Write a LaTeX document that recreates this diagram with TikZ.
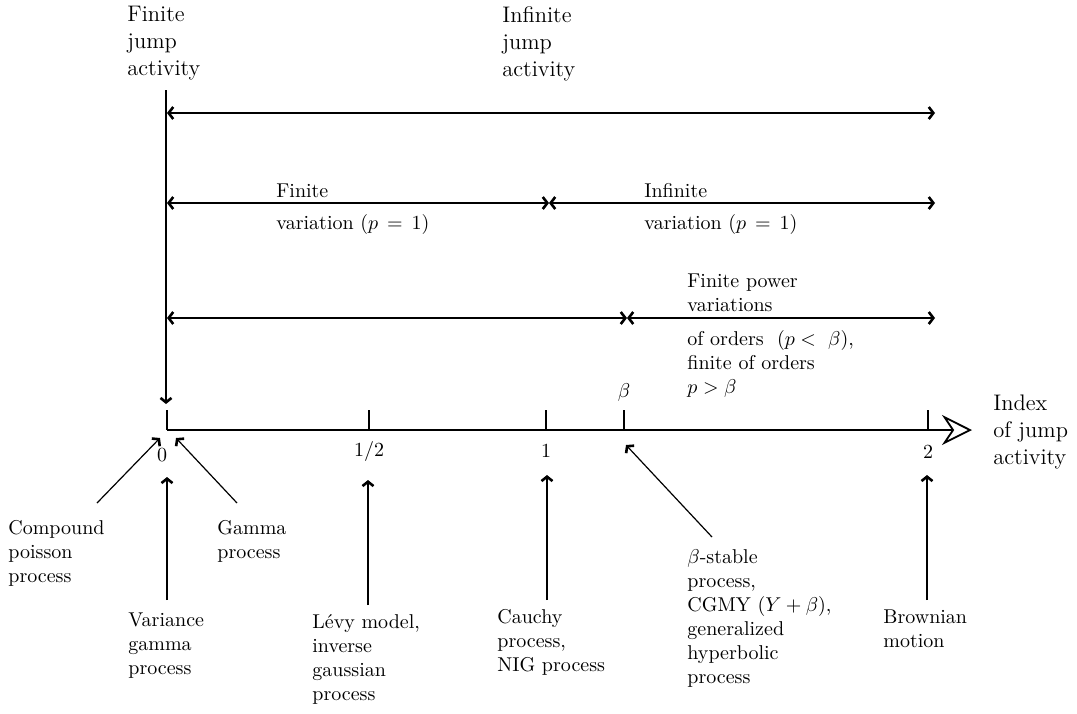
\documentclass[tikz,border=0pt]{standalone}
\usetikzlibrary{arrows.meta}
\begin{document}
\begin{tikzpicture}[x=0.5pt,y=-0.5pt,
  txt/.style={inner sep=0pt, anchor=north west, align=left, font=\fontsize{10}{12}\selectfont},
  btxt/.style={inner sep=0pt, anchor=base west, font=\fontsize{10}{12}\selectfont},
  bigtxt/.style={inner sep=0pt, anchor=north west, align=left, font=\fontsize{11.25}{13.5}\selectfont},
  ticklbl/.style={inner sep=0pt, font=\fontsize{10}{12}\selectfont},
  rangearrow/.style={line width=0.7pt, {Straight Barb[length=2.3pt,width=6pt,line width=1.3pt]}-{Straight Barb[length=2.3pt,width=6pt,line width=1.3pt]}},
  conn/.style={line width=0.6pt, -{Straight Barb[length=2.2pt,width=5.5pt,line width=1.3pt]}},
  axisline/.style={line width=1.3pt},
  tickmark/.style={line width=1.3pt}]
\useasboundingbox (0,0) rectangle (1077,713);

% top labels
\node[bigtxt] (fja) at (127,6) {Finite\\jump\\activity};
\node[bigtxt] (ija) at (502,6) {Infinite\\jump\\activity};

% axis coordinates
\coordinate (o) at (167,430);
\coordinate (half) at (369,430);
\coordinate (one) at (546,430);
\coordinate (beta) at (624,430);
\coordinate (two) at (928,430);
\coordinate (axend) at (972,430);

% vertical line from finite jump activity
\coordinate (vtop) at (166,90);
\coordinate (vbot) at (166,404);
\draw[conn] (vtop) -- (vbot);

% axis
\draw[axisline] (167,410) -- (o);
\draw[axisline, -{Stealth[open,length=15pt,width=15pt,inset=5pt,line width=0.9pt]}] (o) -- (axend);
\foreach \p in {half,one,beta,two} \draw[tickmark] (\p) -- ++(0,-20);

% tick labels
\node[ticklbl] (l0) at (162,455) {0};
\node[ticklbl] (lhalf) at (369,451) {1/2};
\node[ticklbl] (lone) at (546,451) {1};
\node[ticklbl] (ltwo) at (928,452) {2};
\node[ticklbl] (lbeta) at (624,392) {$\beta$};
\node[bigtxt] (idx) at (993,394) {Index\\of jump\\activity};

% row 1
\coordinate (r1a) at (167,113);
\coordinate (r1b) at (935,113);
\draw[rangearrow] (r1a) -- (r1b);

% row 2
\coordinate (r2a) at (167,203);
\coordinate (r2m) at (549,203);
\coordinate (r2b) at (935,203);
\draw[rangearrow] (r2a) -- (r2m);
\draw[rangearrow] (r2m) -- (r2b);
\node[btxt] (fv1) at (276,197) {Finite};
\node[btxt] (fv2) at (276,229) {variation ($p\,=\,1$)};
\node[btxt] (iv1) at (644,197) {Infinite};
\node[btxt] (iv2) at (644,229) {variation ($p\,=\,1$)};

% row 3
\coordinate (r3a) at (167,318);
\coordinate (r3m) at (627,318);
\coordinate (r3b) at (935,318);
\draw[rangearrow] (r3a) -- (r3m);
\draw[rangearrow] (r3m) -- (r3b);
\node[txt] (fp1) at (687,273) {Finite power\\variations};
\node[txt] (fp2) at (687,330) {of orders\ \ ($p<\ \beta$),\\finite of orders\\$p>\beta$};

% bottom labels
\node[txt] (comp) at (8,520) {Compound\\poisson\\process};
\node[txt] (gam) at (217,520) {Gamma\\process};
\node[txt] (var) at (128,612) {Variance\\gamma\\process};
\node[txt] (levy) at (312,614) {L\'evy model,\\inverse\\gaussian\\process};
\node[txt] (cau) at (497,609) {Cauchy\\process,\\NIG process};
\node[txt] (bst) at (687,549) {$\beta$-stable\\process,\\CGMY ($Y+\beta$),\\generalized\\hyperbolic\\process};
\node[txt] (brw) at (883,609) {Brownian\\motion};

% connectors
\coordinate (compS) at (97,503);  \coordinate (compT) at (160,438);
\coordinate (gamS) at (237,503);  \coordinate (gamT) at (176,438);
\coordinate (varS) at (167,600);  \coordinate (varT) at (167,477);
\coordinate (levyS) at (368,605); \coordinate (levyT) at (368,480);
\coordinate (cauS) at (547,600);  \coordinate (cauT) at (547,475);
\coordinate (bstS) at (712,537);  \coordinate (bstT) at (626,445);
\coordinate (brwS) at (927,600);  \coordinate (brwT) at (927,475);
\draw[conn] (compS) -- (compT);
\draw[conn] (gamS) -- (gamT);
\draw[conn] (varS) -- (varT);
\draw[conn] (levyS) -- (levyT);
\draw[conn] (cauS) -- (cauT);
\draw[conn] (bstS) -- (bstT);
\draw[conn] (brwS) -- (brwT);
\end{tikzpicture}
\end{document}
